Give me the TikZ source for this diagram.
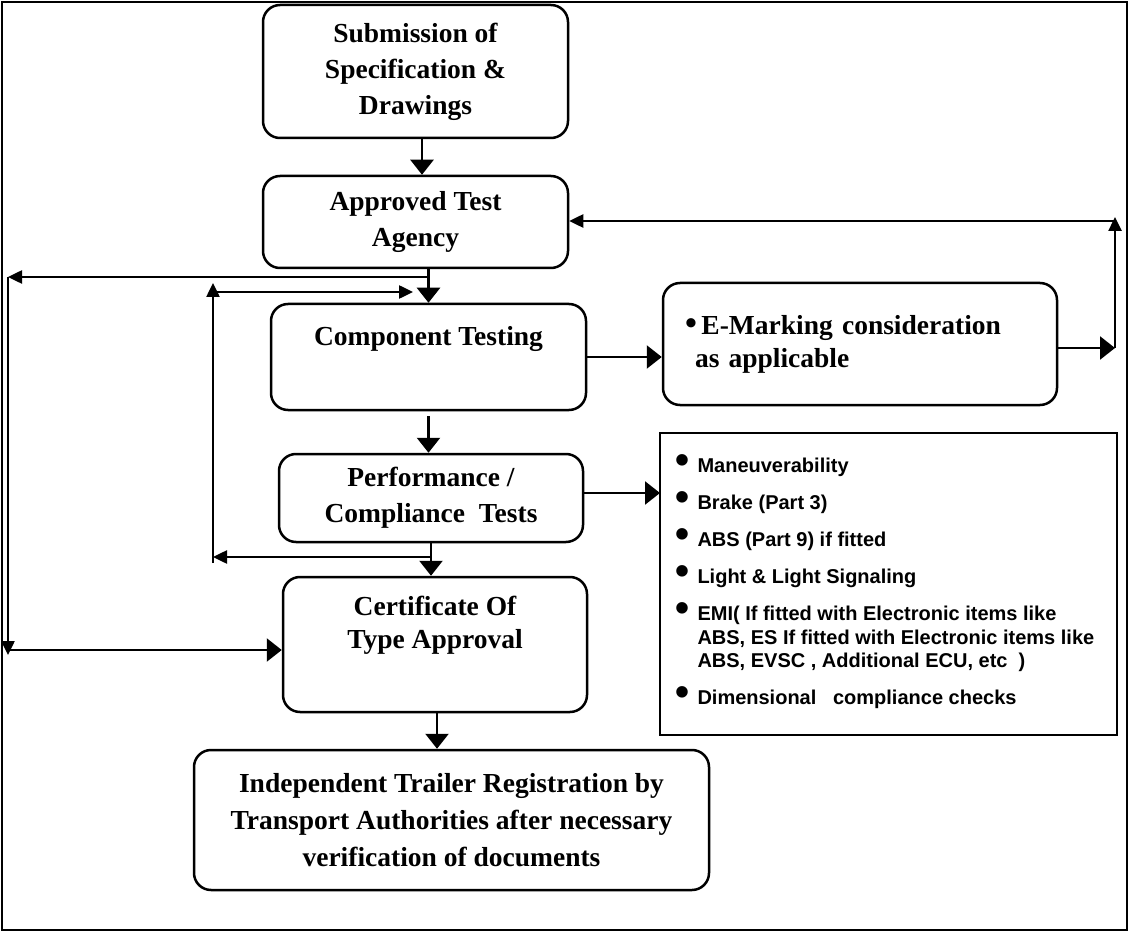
\documentclass[tikz,border=0pt]{standalone}
\usepackage{fontspec}
\setmainfont{Liberation Serif}
\newfontfamily\listfont{Liberation Sans}
\usetikzlibrary{arrows.meta}

\newcommand{\bul}{\hspace*{6pt}\smash{\raisebox{-1pt}{\fontsize{40}{40}\selectfont\textbullet}}}
\newcommand{\ebul}{\smash{\fontsize{34}{34}\selectfont\textbullet}}

\begin{document}
\begin{tikzpicture}[x=1pt, y=-1pt]
  % Define styles
  \tikzset{
    stage/.style={draw, line width=2.5pt, rounded corners=17pt, align=center, inner sep=0pt,
      font=\bfseries\fontsize{27.5}{36}\selectfont},
    listbox/.style={draw, line width=2.5pt, inner sep=0pt,
      font=\listfont\bfseries\fontsize{20}{23.5}\selectfont},
    bigarrow/.style={line width=2.5pt, -{Triangle[length=15pt, width=23pt]}},
    smallarrow/.style={line width=2.5pt, -{Triangle[length=14pt, width=13pt]}},
    frame/.style={line width=2pt}
  }
  \useasboundingbox (0,0) rectangle (1130,933);
  \draw[frame] (2,2) rectangle (1127,930);
  % Main chain of stages
  \node[stage, minimum width=305pt, minimum height=133pt] (sub) at (415.5,71.5)
    {Submission of\\Specification \&\\Drawings};
  \node[stage, minimum width=305pt, minimum height=92pt] (ata) at (415.5,222)
    {Approved Test\\Agency};
  \node[stage, minimum width=315pt, minimum height=106pt, text depth=43pt] (comp) at (428.5,357)
    {Component Testing};
  \node[stage, minimum width=304pt, minimum height=88pt] (perf) at (431,498)
    {Performance /\\Compliance~ Tests};
  \node[stage, minimum width=304pt, minimum height=135pt, text depth=45pt,
    font=\bfseries\fontsize{27.5}{33}\selectfont] (cert) at (435,644.5)
    {Certificate Of\\Type Approval};
  \node[stage, minimum width=515pt, minimum height=140pt, font=\bfseries\fontsize{27.5}{37}\selectfont] (fin) at (451.5,820)
    {Independent Trailer Registration by\\Transport Authorities after necessary\\verification of documents};
  % Side boxes
  \node[stage, minimum width=394pt, minimum height=122pt, align=left, text width=350pt,
    font=\bfseries\fontsize{27.5}{33}\selectfont] (emark) at (860,344)
    {\ebul\,E-Marking consideration\\\hspace*{10pt}as applicable};
  \node[listbox, minimum width=457pt, minimum height=302pt] (list) at (888.5,584) {%
    \begin{tabular}{@{}p{28pt}@{}p{410pt}@{}}
      \bul & Maneuverability\\[13.5pt]
      \bul & Brake (Part 3)\\[13.5pt]
      \bul & ABS (Part 9) if fitted\\[13.5pt]
      \bul & Light \& Light Signaling\\[13.5pt]
      \bul & EMI( If fitted with Electronic items like\newline
             ABS, ES If fitted with Electronic items like\newline
             ABS, EVSC , Additional ECU, etc~ )\\[13.5pt]
      \bul & Dimensional~~ compliance checks
    \end{tabular}};
  % Corners of the loops
  \coordinate (la) at (8,277);
  \coordinate (lb) at (8,650);
  \coordinate (lc) at (213,557);
  \coordinate (ld) at (213,292);
  \coordinate (le) at (413,292);
  \coordinate (ra) at (1115,348);
  \coordinate (rb) at (1115,221);
  \coordinate (listin) at (660,493);
  % Downward flow
  \draw[bigarrow] ([xshift=6.5pt]sub.south) -- ([xshift=6.5pt]ata.north);
  \draw[bigarrow] (ata.south -| comp.north) -- (comp.north);
  \draw[bigarrow] ([yshift=-5pt]comp.south) -- (comp.south |- perf.north);
  \draw[bigarrow] (perf.south) -- (perf.south |- cert.north);
  \draw[bigarrow] ([xshift=2pt]cert.south) -- ([xshift=-14.5pt]fin.north);
  % Outer left loop
  \draw[smallarrow] (la -| comp.north) -- (la);
  \draw[smallarrow] (la) -- ([yshift=-5pt]lb);
  \draw[bigarrow] (lb) -- (lb -| cert.west);
  % Inner left loop
  \draw[smallarrow] (lc -| perf.south) -- (lc);
  \draw[smallarrow] ([yshift=-6pt]lc) -- ([yshift=9pt]ld);
  \draw[smallarrow] (ld) -- (le);
  % Right side
  \draw[bigarrow] (comp.east) -- (comp.east -| emark.west);
  \draw[bigarrow] (emark.east |- ra) -- (ra);
  \draw[smallarrow] (ra) -- ([yshift=4pt]rb);
  \draw[smallarrow] (rb) -- (rb -| ata.east);
  \draw[bigarrow] (perf.east |- listin) -- (listin);
\end{tikzpicture}
\end{document}
